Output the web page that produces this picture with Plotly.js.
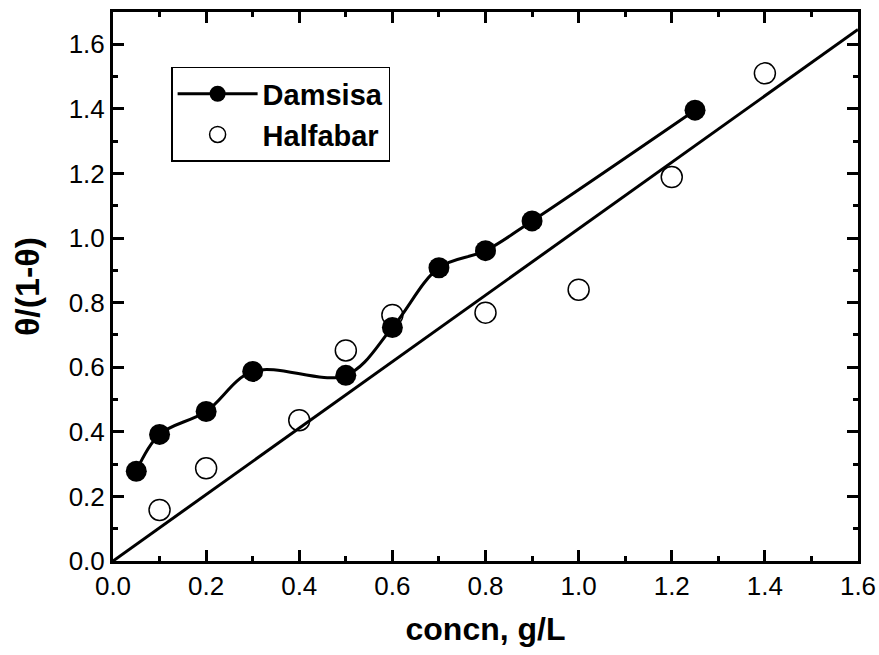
<!DOCTYPE html>
<html>
<head>
<meta charset="utf-8">
<script src="https://cdn.plot.ly/plotly-3.0.1.min.js"></script>
<style>html,body{margin:0;padding:0;background:#fff;}#chart{width:879px;height:655px;}</style>
</head>
<body>
<div id="chart"></div>
<script>
const damsisaX = [0.05, 0.1, 0.2, 0.3, 0.5, 0.6, 0.7, 0.8, 0.9, 1.25];
const damsisaY = [0.278, 0.392, 0.463, 0.587, 0.575, 0.723, 0.908, 0.961, 1.053, 1.396];
const halfabarX = [0.1, 0.2, 0.4, 0.5, 0.6, 0.8, 1.0, 1.2, 1.4];
const halfabarY = [0.158, 0.287, 0.436, 0.652, 0.762, 0.769, 0.84, 1.189, 1.51];
const fitX = [0, 1.6];
const fitY = [0, 1.646];
const seriesNames = ["Damsisa", "Halfabar"];

const font = "Arial, 'Liberation Sans', sans-serif";

const traces = [
  {x: fitX, y: fitY, mode: 'lines', line: {color: '#000', width: 3}, showlegend: false, hoverinfo: 'skip'},
  {x: damsisaX, y: damsisaY, name: seriesNames[0], mode: 'lines+markers',
   line: {color: '#000', width: 3, shape: 'spline', smoothing: 1},
   marker: {symbol: 'circle', size: 21, color: '#000'}},
  {x: halfabarX, y: halfabarY, name: seriesNames[1], mode: 'markers',
   marker: {symbol: 'circle-open', size: 21, color: '#000', line: {width: 1.5, color: '#000'}}}
];

function makeAxis(range, titleText, titleSize, standoff) {
  return {
    range: range, autorange: false, tickmode: 'linear', tick0: 0, dtick: 0.2,
    showgrid: false, zeroline: false, showline: true, linecolor: '#000', linewidth: 3,
    mirror: 'allticks', ticks: 'inside', ticklen: 11, tickwidth: 3, tickcolor: '#000',
    tickformat: '.1f', tickfont: {family: font, size: 26, color: '#000'},
    minor: {ticks: 'inside', ticklen: 5, tickwidth: 3, tickcolor: '#000', dtick: 0.1},
    title: {text: titleText, font: {family: font, size: titleSize, color: '#000', weight: 'bold'}, standoff: standoff}
  };
}

const layout = {
  width: 879, height: 655,
  margin: {l: 113, r: 21, t: 12, b: 94},
  paper_bgcolor: '#fff', plot_bgcolor: '#fff',
  xaxis: makeAxis([0, 1.6], 'concn, g/L', 32, 18),
  yaxis: makeAxis([0, 1.7], 'θ/(1-θ)', 34, 19),
  showlegend: true,
  legend: {x: 0.078, y: 0.9, xanchor: 'left', yanchor: 'top', bordercolor: '#000', borderwidth: 1.5,
    bgcolor: '#fff', font: {family: font, size: 29, color: '#000', weight: 'bold'}, itemwidth: 80,
    tracegroupgap: 0}
};

Plotly.newPlot('chart', traces, layout, {displayModeBar: false, staticPlot: true});
</script>
</body>
</html>
